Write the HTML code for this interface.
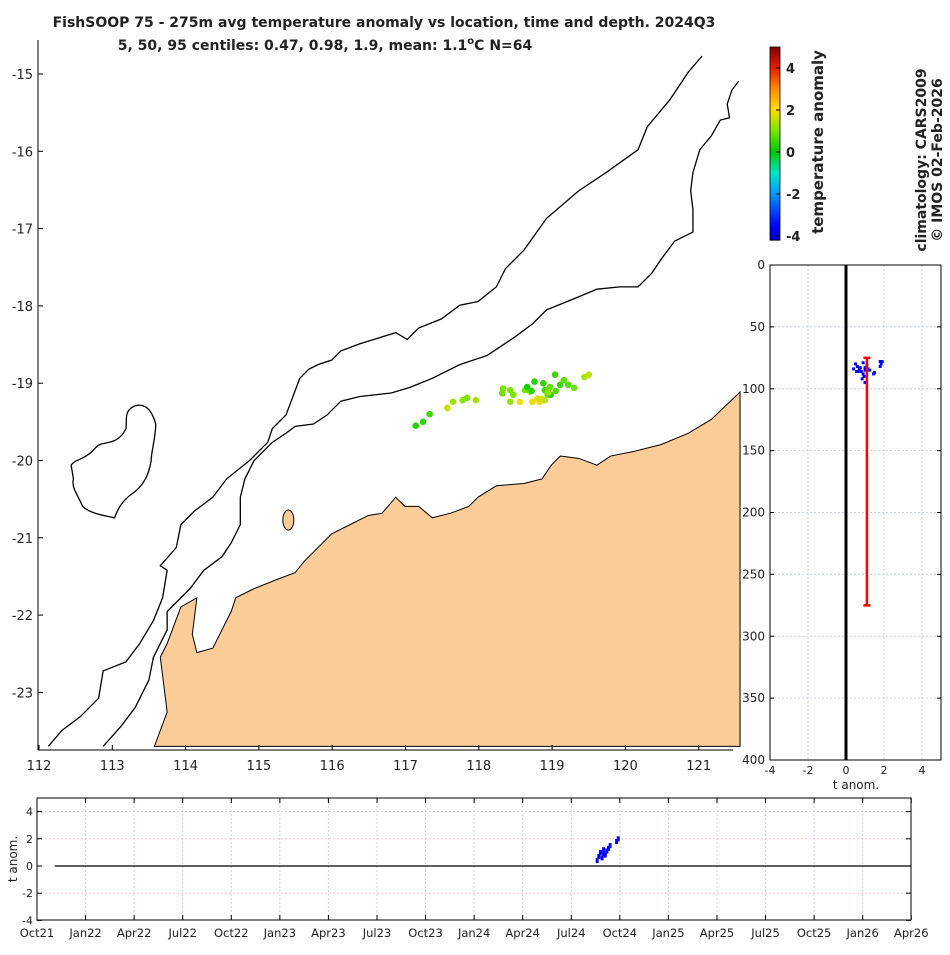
<!DOCTYPE html>
<html><head><meta charset="utf-8"><style>
body{margin:0;background:#fff;}
svg text{font-family:"DejaVu Sans","Liberation Sans",sans-serif;fill:#222;}
</style></head><body>
<svg id="fig" width="950" height="950" xmlns="http://www.w3.org/2000/svg">
<text x="384" y="27" text-anchor="middle" font-size="14" font-weight="bold">FishSOOP 75 - 275m avg temperature anomaly vs location, time and depth. 2024Q3</text>
<text x="325" y="50" text-anchor="middle" font-size="14" font-weight="bold">5, 50, 95 centiles: 0.47, 0.98, 1.9, mean: 1.1<tspan font-size="10" dy="-6">o</tspan><tspan dy="6">C N=64</tspan></text>
<g>
 <g transform="translate(30,40) scale(0.4572)">
  <path fill="#fbcb98" stroke="#000" stroke-width="1" vector-effect="non-scaling-stroke" d="M272,1545 L300,1470 285,1350 300,1320 330,1240 365,1220 355,1300 365,1340 400,1330 420,1290 440,1250 450,1220 490,1200 540,1180 580,1165 600,1140 640,1100 660,1080 700,1060 740,1040 770,1035 800,1000 820,1020 850,1020 880,1045 920,1035 960,1020 980,1000 1020,975 1080,970 1120,960 1140,930 1160,910 1200,915 1240,930 1270,910 1320,900 1380,885 1440,860 1490,830 1553,770 1553,1545 Z"/>
  <path fill="none" stroke="#000" stroke-width="1.3" vector-effect="non-scaling-stroke" d="M40,1545 L70,1510 110,1480 150,1440 160,1380 210,1360 240,1320 270,1270 290,1220 300,1160 285,1150 320,1110 330,1060 360,1030 400,1000 430,960 480,920 520,880 530,850 560,820 575,780 590,740 610,720 630,710 660,700 680,680 720,665 800,640 825,655 850,630 900,610 940,580 980,572 1020,540 1040,500 1080,460 1130,390 1200,330 1260,290 1330,240 1350,190 1400,130 1420,100 1440,70 1470,35"/>
  <path fill="none" stroke="#000" stroke-width="1.3" vector-effect="non-scaling-stroke" d="M160,1545 L200,1500 230,1460 260,1400 270,1350 300,1290 300,1250 320,1230 350,1200 380,1160 420,1130 440,1100 460,1060 460,1000 470,960 490,920 530,880 560,860 580,845 620,840 650,820 680,790 720,780 790,772 830,760 880,740 940,710 1000,690 1060,650 1100,620 1130,590 1180,570 1240,545 1290,540 1330,540 1360,510 1380,480 1410,440 1450,420 1450,370 1445,330 1450,290 1465,240 1490,210 1510,175 1530,170 1525,140 1535,110 1550,90"/>
  <path fill="none" stroke="#000" stroke-width="1.3" vector-effect="non-scaling-stroke" d="M90,930 C100,915 120,920 145,890 C160,875 190,890 210,850 C212,830 205,810 230,800 C250,795 265,805 275,840 C275,870 265,900 265,920 C260,950 250,975 220,995 C200,1010 190,1030 185,1045 C160,1040 130,1035 115,1020 C105,995 90,980 95,960 Z"/>
  <ellipse cx="565" cy="1050" rx="12" ry="22" fill="#fbcb98" stroke="#000" stroke-width="1" vector-effect="non-scaling-stroke"/>
 </g>
 <line x1="38" y1="40" x2="38" y2="750" stroke="#000" stroke-width="1"/>
 <line x1="38" y1="750" x2="733" y2="750" stroke="#000" stroke-width="1"/>
 <g id="mapAxes"></g>
 <g id="mapPts"></g>
</g>
<g id="cbar"></g>
<text transform="translate(823,142) rotate(-90)" text-anchor="middle" font-size="15" font-weight="bold">temperature anomaly</text>
<text transform="translate(926,160) rotate(-90)" text-anchor="middle" font-size="14" font-weight="bold">climatology: CARS2009</text>
<text transform="translate(942,160) rotate(-90)" text-anchor="middle" font-size="14" font-weight="bold">© IMOS 02-Feb-2026</text>
<g id="depth"></g>
<g id="time"></g>
</svg>
<script>
// ---- data ----
const ptLon=[117.14,117.33,117.24,117.57,117.65,117.78,117.84,117.96,118.32,118.33,118.43,118.43,118.56,118.70,118.73,118.83,118.94,119.11,118.97,118.88,119.04,119.16,119.44,119.50,119.30,118.98,118.47,119.22,118.90,118.63,118.72,118.80,118.85,118.90,118.66,119.05,118.76,118.95];
const ptLat=[-19.55,-19.40,-19.50,-19.32,-19.24,-19.22,-19.19,-19.22,-19.13,-19.07,-19.09,-19.24,-19.24,-19.11,-19.24,-19.24,-19.15,-19.02,-19.05,-19.00,-18.89,-18.96,-18.92,-18.89,-19.06,-19.15,-19.15,-19.02,-19.09,-19.09,-19.10,-19.20,-19.20,-19.22,-19.05,-19.10,-18.98,-19.12];
const ptVal=[0.3,0.5,0.4,1.6,1.3,1.1,1.0,1.3,0.9,1.0,1.0,1.3,1.9,1.1,1.9,1.9,0.9,0.5,0.8,0.4,0.5,0.8,1.4,1.5,0.9,0.3,1.0,0.7,0.6,1.0,0.4,1.8,1.7,1.5,0.2,0.7,0.3,1.2];
const ptDepth=[80,82,84,86,88,83,85,81,79,90,95,92,84,86,87,78,78,80,82,85,88,83,84,86];
const ptAnom=[0.5,0.6,0.7,0.8,0.9,1.0,1.0,1.1,0.9,0.95,1.0,0.85,0.4,0.55,1.5,1.8,1.9,1.85,1.8,1.25,1.45,0.75,1.15,0.65];
const meanAnom=1.1, depthTop=75, depthBot=275;
const tMonth=[34.6,34.7,34.8,34.9,35.0,35.0,35.1,35.2,35.3,35.4,35.8,35.9];
const tAnom=[0.4,0.7,1.0,0.6,0.9,1.2,0.8,1.1,1.3,1.5,1.8,2.0];
const lonTicks=[112,113,114,115,116,117,118,119,120,121];
const latTicks=[-15,-16,-17,-18,-19,-20,-21,-22,-23];
const cbTicks=[4,2,0,-2,-4];
const depthTicks=[0,50,100,150,200,250,300,350,400];
const anomTicks=[-4,-2,0,2,4];
const timeLabels=["Oct21","Jan22","Apr22","Jul22","Oct22","Jan23","Apr23","Jul23","Oct23","Jan24","Apr24","Jul24","Oct24","Jan25","Apr25","Jul25","Oct25","Jan26","Apr26"];
const tAnomTicks=[-4,-2,0,2,4];

const NS="http://www.w3.org/2000/svg";
function mk(p,t,a){const e=document.createElementNS(NS,t);for(const k in a)e.setAttribute(k,a[k]);p.appendChild(e);return e;}
const xLon=v=>39+(v-112)*73.3, yLat=v=>74+(-15-v)*77.3;
const yCb=v=>152-v*21;
const xD=v=>846+v*19, yD=v=>265+v*1.2375;
const xT=m=>37+m*16.19, yT=v=>866-v*13.6;
const stops=[[-5,[0,0,130]],[-3.5,[0,0,255]],[-2,[0,150,255]],[-1,[0,230,200]],[0,[0,200,0]],[1,[120,230,0]],[2,[255,220,0]],[3,[255,140,0]],[4,[230,30,0]],[5,[130,0,0]]];
function cmap(v){for(let i=0;i<stops.length-1;i++){const[a,ca]=stops[i],[b,cb]=stops[i+1];if(v<=b||i==stops.length-2){let t=Math.max(0,Math.min(1,(v-a)/(b-a)));return`rgb(${ca.map((c,j)=>Math.round(c+(cb[j]-c)*t)).join(',')})`;}}}

const ma=document.getElementById('mapAxes');
lonTicks.forEach(v=>{mk(ma,'line',{x1:xLon(v),y1:750,x2:xLon(v),y2:745,stroke:'#000'});const t=mk(ma,'text',{x:xLon(v),y:770,'text-anchor':'middle','font-size':13});t.textContent=v;

});
latTicks.forEach(v=>{mk(ma,'line',{x1:38,y1:yLat(v),x2:43,y2:yLat(v),stroke:'#000'});const t=mk(ma,'text',{x:33,y:yLat(v)+5,'text-anchor':'end','font-size':13});t.textContent=v;

});
const mp=document.getElementById('mapPts');
ptLon.forEach((lo,i)=>{const c=mk(mp,'circle',{cx:xLon(lo),cy:yLat(ptLat[i]),r:3.3,fill:cmap(ptVal[i])});

});

const cb=document.getElementById('cbar');
const defs=mk(cb,'defs',{});const lg=mk(defs,'linearGradient',{id:'cg',x1:0,y1:1,x2:0,y2:0});
for(let v=-4.2;v<=5.001;v+=0.2){mk(lg,'stop',{offset:(v+4.2)/9.2,'stop-color':cmap(v)});}
mk(cb,'rect',{x:770,y:yCb(5),width:10,height:yCb(-4.2)-yCb(5),fill:'url(#cg)',stroke:'#000','stroke-width':0.8});
cbTicks.forEach(v=>{mk(cb,'line',{x1:776,y1:yCb(v),x2:780,y2:yCb(v),stroke:'#000'});const t=mk(cb,'text',{x:786,y:yCb(v)+5,'font-size':13,'font-weight':'bold'});t.textContent=v;

});

const dp=document.getElementById('depth');
[-4,-2,2,4].forEach(v=>mk(dp,'line',{x1:xD(v),y1:265,x2:xD(v),y2:760,stroke:'#c8d0ee','stroke-dasharray':'2,2'}));
depthTicks.forEach(v=>{if(v>0&&v<400)mk(dp,'line',{x1:770,y1:yD(v),x2:941,y2:yD(v),stroke:'#c8d0ee','stroke-dasharray':'2,2'});
mk(dp,'line',{x1:770,y1:yD(v),x2:774,y2:yD(v),stroke:'#000'});mk(dp,'line',{x1:937,y1:yD(v),x2:941,y2:yD(v),stroke:'#000'});
const t=mk(dp,'text',{x:765,y:yD(v)+4,'text-anchor':'end','font-size':12});t.textContent=v;

});
anomTicks.forEach(v=>{const t=mk(dp,'text',{x:xD(v),y:774,'text-anchor':'middle','font-size':11});t.textContent=v;

});
mk(dp,'line',{x1:xD(0),y1:265,x2:xD(0),y2:760,stroke:'#000','stroke-width':3});
ptAnom.forEach((a,i)=>{const r=mk(dp,'rect',{x:xD(a)-1.5,y:yD(ptDepth[i])-1.5,width:3,height:3,fill:'#0000ff'});

});
const eb=mk(dp,'path',{d:`M${xD(meanAnom)},${yD(depthTop)}V${yD(depthBot)}M${xD(meanAnom)-3.5},${yD(depthTop)}h7M${xD(meanAnom)-3.5},${yD(depthBot)}h7`,stroke:'#f00','stroke-width':2.5,fill:'none'});


mk(dp,'rect',{x:770,y:265,width:171,height:495,fill:'none',stroke:'#000'});
const xl=mk(dp,'text',{x:856,y:789,'text-anchor':'middle','font-size':12});xl.textContent='t anom.';



const tp=document.getElementById('time');
timeLabels.forEach((s,i)=>{const x=xT(i*3);
if(i>0&&i<18)mk(tp,'line',{x1:x,y1:798,x2:x,y2:920,stroke:'#c8d0ee','stroke-dasharray':'2,2'});
mk(tp,'line',{x1:x,y1:798,x2:x,y2:803,stroke:'#000'});mk(tp,'line',{x1:x,y1:915,x2:x,y2:920,stroke:'#000'});
const t=mk(tp,'text',{x:x,y:937,'text-anchor':'middle','font-size':11.5});t.textContent=s;

});
tAnomTicks.forEach(v=>{if(v!==0&&v>-4)mk(tp,'line',{x1:37,y1:yT(v),x2:911,y2:yT(v),stroke:'#e8c8c8','stroke-dasharray':'2,2'});
mk(tp,'line',{x1:37,y1:yT(v),x2:42,y2:yT(v),stroke:'#000'});mk(tp,'line',{x1:906,y1:yT(v),x2:911,y2:yT(v),stroke:'#000'});
const t=mk(tp,'text',{x:33,y:yT(v)+4,'text-anchor':'end','font-size':11});t.textContent=v;

});
mk(tp,'line',{x1:xT(1.1),y1:yT(0),x2:911,y2:yT(0),stroke:'#000','stroke-width':1.3});
tMonth.forEach((m,i)=>{const r=mk(tp,'rect',{x:xT(m)-1.5,y:yT(tAnom[i])-2.5,width:3,height:5,fill:'#0000ff'});

});
mk(tp,'rect',{x:37,y:798,width:874,height:122,fill:'none',stroke:'#000'});
const yl=mk(tp,'text',{transform:'translate(17,859) rotate(-90)','text-anchor':'middle','font-size':12});yl.textContent='t anom.';


</script>
</body></html>
